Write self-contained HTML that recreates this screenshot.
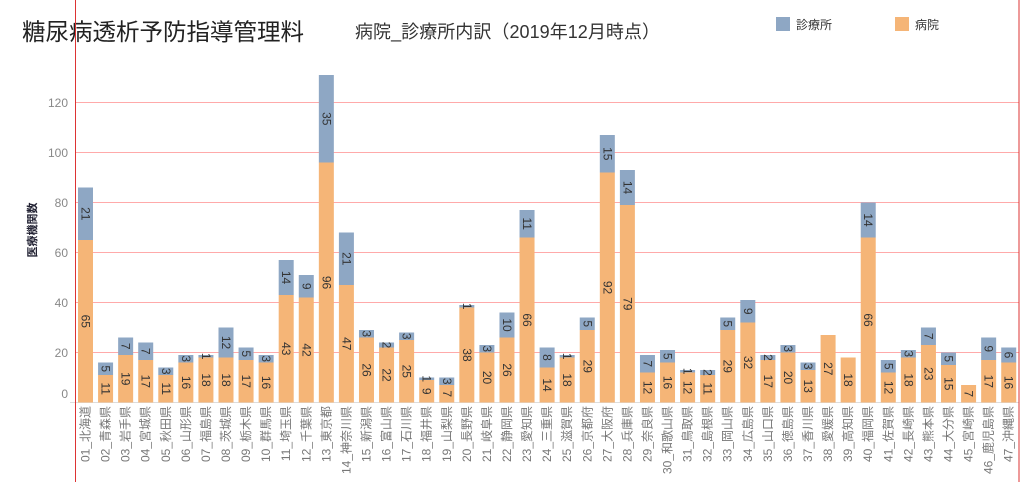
<!DOCTYPE html>
<html><head><meta charset="utf-8"><style>
body{margin:0;background:#fff;width:1024px;height:492px;overflow:hidden}
svg{display:block;font-family:"Liberation Sans","Noto Sans CJK JP",sans-serif}
.o{fill:#f5b577}.b{fill:#8ea7c4}
.v{font-size:12px;fill:#333;text-anchor:middle}
.c{font-size:12px;fill:#777;text-anchor:end}
.y{font-size:12px;fill:#888;text-anchor:end}
.g{stroke:#ffaaaa;stroke-width:1}
</style></head><body>
<svg width="1024" height="492" viewBox="0 0 1024 492">
<text x="22" y="40" font-size="23.5" fill="#222">糖尿病透析予防指導管理料</text>
<text x="355" y="38" font-size="18" fill="#333" textLength="305">病院_診療所内訳（2019年12月時点）</text>
<rect x="776" y="17" width="14" height="14" class="b"/><text x="796" y="29" font-size="12" fill="#333">診療所</text>
<rect x="895" y="17" width="14" height="14" class="o"/><text x="915" y="29" font-size="12" fill="#333">病院</text>
<text transform="translate(36,230) rotate(-90)" font-size="11" fill="#223" text-anchor="middle" font-weight="bold">医療機関数</text>
<g class="g">
<line x1="76" x2="1019" y1="102.5" y2="102.5"/><line x1="76" x2="1019" y1="152.5" y2="152.5"/><line x1="76" x2="1019" y1="202.5" y2="202.5"/><line x1="76" x2="1019" y1="252.5" y2="252.5"/><line x1="76" x2="1019" y1="302.5" y2="302.5"/><line x1="76" x2="1019" y1="352.5" y2="352.5"/>
</g>
<line x1="70" x2="1019" y1="402.5" y2="402.5" stroke="#ddd"/>
<line x1="75.5" x2="75.5" y1="0" y2="482" stroke="#d33" stroke-width="1"/>
<line x1="1019" x2="1019" y1="0" y2="482" stroke="#d33" stroke-width="1"/>
<g class="y"><text x="68" y="107">120</text><text x="68" y="157">100</text><text x="68" y="207">80</text><text x="68" y="257">60</text><text x="68" y="307">40</text><text x="68" y="357">20</text><text x="68" y="398">0</text></g>

<g transform="translate(78,0)"><rect class="o" width="15" y="240" height="162.5"/><rect class="b" width="15" y="187.5" height="52.5"/><text class="v" transform="translate(7.5,321.25) rotate(90)" dy="4">65</text><text class="v" transform="translate(7.5,213.75) rotate(90)" dy="4">21</text><text class="c" transform="translate(7.5,406) rotate(-90)" dy="4">01_北海道</text></g>
<g transform="translate(98.07,0)"><rect class="o" width="15" y="375" height="27.5"/><rect class="b" width="15" y="362.5" height="12.5"/><text class="v" transform="translate(7.5,388.75) rotate(90)" dy="4">11</text><text class="v" transform="translate(7.5,368.75) rotate(90)" dy="4">5</text><text class="c" transform="translate(7.5,406) rotate(-90)" dy="4">02_青森県</text></g>
<g transform="translate(118.14,0)"><rect class="o" width="15" y="355" height="47.5"/><rect class="b" width="15" y="337.5" height="17.5"/><text class="v" transform="translate(7.5,378.75) rotate(90)" dy="4">19</text><text class="v" transform="translate(7.5,346.25) rotate(90)" dy="4">7</text><text class="c" transform="translate(7.5,406) rotate(-90)" dy="4">03_岩手県</text></g>
<g transform="translate(138.21,0)"><rect class="o" width="15" y="360" height="42.5"/><rect class="b" width="15" y="342.5" height="17.5"/><text class="v" transform="translate(7.5,381.25) rotate(90)" dy="4">17</text><text class="v" transform="translate(7.5,351.25) rotate(90)" dy="4">7</text><text class="c" transform="translate(7.5,406) rotate(-90)" dy="4">04_宮城県</text></g>
<g transform="translate(158.28,0)"><rect class="o" width="15" y="375" height="27.5"/><rect class="b" width="15" y="367.5" height="7.5"/><text class="v" transform="translate(7.5,388.75) rotate(90)" dy="4">11</text><text class="v" transform="translate(7.5,371.25) rotate(90)" dy="4">3</text><text class="c" transform="translate(7.5,406) rotate(-90)" dy="4">05_秋田県</text></g>
<g transform="translate(178.35,0)"><rect class="o" width="15" y="362.5" height="40"/><rect class="b" width="15" y="355" height="7.5"/><text class="v" transform="translate(7.5,382.5) rotate(90)" dy="4">16</text><text class="v" transform="translate(7.5,358.75) rotate(90)" dy="4">3</text><text class="c" transform="translate(7.5,406) rotate(-90)" dy="4">06_山形県</text></g>
<g transform="translate(198.42,0)"><rect class="o" width="15" y="357.5" height="45"/><rect class="b" width="15" y="355" height="2.5"/><text class="v" transform="translate(7.5,380) rotate(90)" dy="4">18</text><text class="v" transform="translate(7.5,356.25) rotate(90)" dy="4">1</text><text class="c" transform="translate(7.5,406) rotate(-90)" dy="4">07_福島県</text></g>
<g transform="translate(218.49,0)"><rect class="o" width="15" y="357.5" height="45"/><rect class="b" width="15" y="327.5" height="30"/><text class="v" transform="translate(7.5,380) rotate(90)" dy="4">18</text><text class="v" transform="translate(7.5,342.5) rotate(90)" dy="4">12</text><text class="c" transform="translate(7.5,406) rotate(-90)" dy="4">08_茨城県</text></g>
<g transform="translate(238.56,0)"><rect class="o" width="15" y="360" height="42.5"/><rect class="b" width="15" y="347.5" height="12.5"/><text class="v" transform="translate(7.5,381.25) rotate(90)" dy="4">17</text><text class="v" transform="translate(7.5,353.75) rotate(90)" dy="4">5</text><text class="c" transform="translate(7.5,406) rotate(-90)" dy="4">09_栃木県</text></g>
<g transform="translate(258.63,0)"><rect class="o" width="15" y="362.5" height="40"/><rect class="b" width="15" y="355" height="7.5"/><text class="v" transform="translate(7.5,382.5) rotate(90)" dy="4">16</text><text class="v" transform="translate(7.5,358.75) rotate(90)" dy="4">3</text><text class="c" transform="translate(7.5,406) rotate(-90)" dy="4">10_群馬県</text></g>
<g transform="translate(278.7,0)"><rect class="o" width="15" y="295" height="107.5"/><rect class="b" width="15" y="260" height="35"/><text class="v" transform="translate(7.5,348.75) rotate(90)" dy="4">43</text><text class="v" transform="translate(7.5,277.5) rotate(90)" dy="4">14</text><text class="c" transform="translate(7.5,406) rotate(-90)" dy="4">11_埼玉県</text></g>
<g transform="translate(298.77,0)"><rect class="o" width="15" y="297.5" height="105"/><rect class="b" width="15" y="275" height="22.5"/><text class="v" transform="translate(7.5,350) rotate(90)" dy="4">42</text><text class="v" transform="translate(7.5,286.25) rotate(90)" dy="4">9</text><text class="c" transform="translate(7.5,406) rotate(-90)" dy="4">12_千葉県</text></g>
<g transform="translate(318.84,0)"><rect class="o" width="15" y="162.5" height="240"/><rect class="b" width="15" y="75" height="87.5"/><text class="v" transform="translate(7.5,282.5) rotate(90)" dy="4">96</text><text class="v" transform="translate(7.5,118.75) rotate(90)" dy="4">35</text><text class="c" transform="translate(7.5,406) rotate(-90)" dy="4">13_東京都</text></g>
<g transform="translate(338.91,0)"><rect class="o" width="15" y="285" height="117.5"/><rect class="b" width="15" y="232.5" height="52.5"/><text class="v" transform="translate(7.5,343.75) rotate(90)" dy="4">47</text><text class="v" transform="translate(7.5,258.75) rotate(90)" dy="4">21</text><text class="c" transform="translate(7.5,406) rotate(-90)" dy="4">14_神奈川県</text></g>
<g transform="translate(358.98,0)"><rect class="o" width="15" y="337.5" height="65"/><rect class="b" width="15" y="330" height="7.5"/><text class="v" transform="translate(7.5,370) rotate(90)" dy="4">26</text><text class="v" transform="translate(7.5,333.75) rotate(90)" dy="4">3</text><text class="c" transform="translate(7.5,406) rotate(-90)" dy="4">15_新潟県</text></g>
<g transform="translate(379.05,0)"><rect class="o" width="15" y="347.5" height="55"/><rect class="b" width="15" y="342.5" height="5"/><text class="v" transform="translate(7.5,375) rotate(90)" dy="4">22</text><text class="v" transform="translate(7.5,345) rotate(90)" dy="4">2</text><text class="c" transform="translate(7.5,406) rotate(-90)" dy="4">16_富山県</text></g>
<g transform="translate(399.12,0)"><rect class="o" width="15" y="340" height="62.5"/><rect class="b" width="15" y="332.5" height="7.5"/><text class="v" transform="translate(7.5,371.25) rotate(90)" dy="4">25</text><text class="v" transform="translate(7.5,336.25) rotate(90)" dy="4">3</text><text class="c" transform="translate(7.5,406) rotate(-90)" dy="4">17_石川県</text></g>
<g transform="translate(419.19,0)"><rect class="o" width="15" y="380" height="22.5"/><rect class="b" width="15" y="377.5" height="2.5"/><text class="v" transform="translate(7.5,391.25) rotate(90)" dy="4">9</text><text class="v" transform="translate(7.5,378.75) rotate(90)" dy="4">1</text><text class="c" transform="translate(7.5,406) rotate(-90)" dy="4">18_福井県</text></g>
<g transform="translate(439.26,0)"><rect class="o" width="15" y="385" height="17.5"/><rect class="b" width="15" y="377.5" height="7.5"/><text class="v" transform="translate(7.5,393.75) rotate(90)" dy="4">7</text><text class="v" transform="translate(7.5,381.25) rotate(90)" dy="4">3</text><text class="c" transform="translate(7.5,406) rotate(-90)" dy="4">19_山梨県</text></g>
<g transform="translate(459.33,0)"><rect class="o" width="15" y="307.5" height="95"/><rect class="b" width="15" y="305" height="2.5"/><text class="v" transform="translate(7.5,355) rotate(90)" dy="4">38</text><text class="v" transform="translate(7.5,306.25) rotate(90)" dy="4">1</text><text class="c" transform="translate(7.5,406) rotate(-90)" dy="4">20_長野県</text></g>
<g transform="translate(479.4,0)"><rect class="o" width="15" y="352.5" height="50"/><rect class="b" width="15" y="345" height="7.5"/><text class="v" transform="translate(7.5,377.5) rotate(90)" dy="4">20</text><text class="v" transform="translate(7.5,348.75) rotate(90)" dy="4">3</text><text class="c" transform="translate(7.5,406) rotate(-90)" dy="4">21_岐阜県</text></g>
<g transform="translate(499.47,0)"><rect class="o" width="15" y="337.5" height="65"/><rect class="b" width="15" y="312.5" height="25"/><text class="v" transform="translate(7.5,370) rotate(90)" dy="4">26</text><text class="v" transform="translate(7.5,325) rotate(90)" dy="4">10</text><text class="c" transform="translate(7.5,406) rotate(-90)" dy="4">22_静岡県</text></g>
<g transform="translate(519.54,0)"><rect class="o" width="15" y="237.5" height="165"/><rect class="b" width="15" y="210" height="27.5"/><text class="v" transform="translate(7.5,320) rotate(90)" dy="4">66</text><text class="v" transform="translate(7.5,223.75) rotate(90)" dy="4">11</text><text class="c" transform="translate(7.5,406) rotate(-90)" dy="4">23_愛知県</text></g>
<g transform="translate(539.61,0)"><rect class="o" width="15" y="367.5" height="35"/><rect class="b" width="15" y="347.5" height="20"/><text class="v" transform="translate(7.5,385) rotate(90)" dy="4">14</text><text class="v" transform="translate(7.5,357.5) rotate(90)" dy="4">8</text><text class="c" transform="translate(7.5,406) rotate(-90)" dy="4">24_三重県</text></g>
<g transform="translate(559.68,0)"><rect class="o" width="15" y="357.5" height="45"/><rect class="b" width="15" y="355" height="2.5"/><text class="v" transform="translate(7.5,380) rotate(90)" dy="4">18</text><text class="v" transform="translate(7.5,356.25) rotate(90)" dy="4">1</text><text class="c" transform="translate(7.5,406) rotate(-90)" dy="4">25_滋賀県</text></g>
<g transform="translate(579.75,0)"><rect class="o" width="15" y="330" height="72.5"/><rect class="b" width="15" y="317.5" height="12.5"/><text class="v" transform="translate(7.5,366.25) rotate(90)" dy="4">29</text><text class="v" transform="translate(7.5,323.75) rotate(90)" dy="4">5</text><text class="c" transform="translate(7.5,406) rotate(-90)" dy="4">26_京都府</text></g>
<g transform="translate(599.82,0)"><rect class="o" width="15" y="172.5" height="230"/><rect class="b" width="15" y="135" height="37.5"/><text class="v" transform="translate(7.5,287.5) rotate(90)" dy="4">92</text><text class="v" transform="translate(7.5,153.75) rotate(90)" dy="4">15</text><text class="c" transform="translate(7.5,406) rotate(-90)" dy="4">27_大阪府</text></g>
<g transform="translate(619.89,0)"><rect class="o" width="15" y="205" height="197.5"/><rect class="b" width="15" y="170" height="35"/><text class="v" transform="translate(7.5,303.75) rotate(90)" dy="4">79</text><text class="v" transform="translate(7.5,187.5) rotate(90)" dy="4">14</text><text class="c" transform="translate(7.5,406) rotate(-90)" dy="4">28_兵庫県</text></g>
<g transform="translate(639.96,0)"><rect class="o" width="15" y="372.5" height="30"/><rect class="b" width="15" y="355" height="17.5"/><text class="v" transform="translate(7.5,387.5) rotate(90)" dy="4">12</text><text class="v" transform="translate(7.5,363.75) rotate(90)" dy="4">7</text><text class="c" transform="translate(7.5,406) rotate(-90)" dy="4">29_奈良県</text></g>
<g transform="translate(660.03,0)"><rect class="o" width="15" y="362.5" height="40"/><rect class="b" width="15" y="350" height="12.5"/><text class="v" transform="translate(7.5,382.5) rotate(90)" dy="4">16</text><text class="v" transform="translate(7.5,356.25) rotate(90)" dy="4">5</text><text class="c" transform="translate(7.5,406) rotate(-90)" dy="4">30_和歌山県</text></g>
<g transform="translate(680.1,0)"><rect class="o" width="15" y="372.5" height="30"/><rect class="b" width="15" y="370" height="2.5"/><text class="v" transform="translate(7.5,387.5) rotate(90)" dy="4">12</text><text class="v" transform="translate(7.5,371.25) rotate(90)" dy="4">1</text><text class="c" transform="translate(7.5,406) rotate(-90)" dy="4">31_鳥取県</text></g>
<g transform="translate(700.17,0)"><rect class="o" width="15" y="375" height="27.5"/><rect class="b" width="15" y="370" height="5"/><text class="v" transform="translate(7.5,388.75) rotate(90)" dy="4">11</text><text class="v" transform="translate(7.5,372.5) rotate(90)" dy="4">2</text><text class="c" transform="translate(7.5,406) rotate(-90)" dy="4">32_島根県</text></g>
<g transform="translate(720.24,0)"><rect class="o" width="15" y="330" height="72.5"/><rect class="b" width="15" y="317.5" height="12.5"/><text class="v" transform="translate(7.5,366.25) rotate(90)" dy="4">29</text><text class="v" transform="translate(7.5,323.75) rotate(90)" dy="4">5</text><text class="c" transform="translate(7.5,406) rotate(-90)" dy="4">33_岡山県</text></g>
<g transform="translate(740.31,0)"><rect class="o" width="15" y="322.5" height="80"/><rect class="b" width="15" y="300" height="22.5"/><text class="v" transform="translate(7.5,362.5) rotate(90)" dy="4">32</text><text class="v" transform="translate(7.5,311.25) rotate(90)" dy="4">9</text><text class="c" transform="translate(7.5,406) rotate(-90)" dy="4">34_広島県</text></g>
<g transform="translate(760.38,0)"><rect class="o" width="15" y="360" height="42.5"/><rect class="b" width="15" y="355" height="5"/><text class="v" transform="translate(7.5,381.25) rotate(90)" dy="4">17</text><text class="v" transform="translate(7.5,357.5) rotate(90)" dy="4">2</text><text class="c" transform="translate(7.5,406) rotate(-90)" dy="4">35_山口県</text></g>
<g transform="translate(780.45,0)"><rect class="o" width="15" y="352.5" height="50"/><rect class="b" width="15" y="345" height="7.5"/><text class="v" transform="translate(7.5,377.5) rotate(90)" dy="4">20</text><text class="v" transform="translate(7.5,348.75) rotate(90)" dy="4">3</text><text class="c" transform="translate(7.5,406) rotate(-90)" dy="4">36_徳島県</text></g>
<g transform="translate(800.52,0)"><rect class="o" width="15" y="370" height="32.5"/><rect class="b" width="15" y="362.5" height="7.5"/><text class="v" transform="translate(7.5,386.25) rotate(90)" dy="4">13</text><text class="v" transform="translate(7.5,366.25) rotate(90)" dy="4">3</text><text class="c" transform="translate(7.5,406) rotate(-90)" dy="4">37_香川県</text></g>
<g transform="translate(820.59,0)"><rect class="o" width="15" y="335" height="67.5"/><text class="v" transform="translate(7.5,368.75) rotate(90)" dy="4">27</text><text class="c" transform="translate(7.5,406) rotate(-90)" dy="4">38_愛媛県</text></g>
<g transform="translate(840.66,0)"><rect class="o" width="15" y="357.5" height="45"/><text class="v" transform="translate(7.5,380) rotate(90)" dy="4">18</text><text class="c" transform="translate(7.5,406) rotate(-90)" dy="4">39_高知県</text></g>
<g transform="translate(860.73,0)"><rect class="o" width="15" y="237.5" height="165"/><rect class="b" width="15" y="202.5" height="35"/><text class="v" transform="translate(7.5,320) rotate(90)" dy="4">66</text><text class="v" transform="translate(7.5,220) rotate(90)" dy="4">14</text><text class="c" transform="translate(7.5,406) rotate(-90)" dy="4">40_福岡県</text></g>
<g transform="translate(880.8,0)"><rect class="o" width="15" y="372.5" height="30"/><rect class="b" width="15" y="360" height="12.5"/><text class="v" transform="translate(7.5,387.5) rotate(90)" dy="4">12</text><text class="v" transform="translate(7.5,366.25) rotate(90)" dy="4">5</text><text class="c" transform="translate(7.5,406) rotate(-90)" dy="4">41_佐賀県</text></g>
<g transform="translate(900.87,0)"><rect class="o" width="15" y="357.5" height="45"/><rect class="b" width="15" y="350" height="7.5"/><text class="v" transform="translate(7.5,380) rotate(90)" dy="4">18</text><text class="v" transform="translate(7.5,353.75) rotate(90)" dy="4">3</text><text class="c" transform="translate(7.5,406) rotate(-90)" dy="4">42_長崎県</text></g>
<g transform="translate(920.94,0)"><rect class="o" width="15" y="345" height="57.5"/><rect class="b" width="15" y="327.5" height="17.5"/><text class="v" transform="translate(7.5,373.75) rotate(90)" dy="4">23</text><text class="v" transform="translate(7.5,336.25) rotate(90)" dy="4">7</text><text class="c" transform="translate(7.5,406) rotate(-90)" dy="4">43_熊本県</text></g>
<g transform="translate(941.01,0)"><rect class="o" width="15" y="365" height="37.5"/><rect class="b" width="15" y="352.5" height="12.5"/><text class="v" transform="translate(7.5,383.75) rotate(90)" dy="4">15</text><text class="v" transform="translate(7.5,358.75) rotate(90)" dy="4">5</text><text class="c" transform="translate(7.5,406) rotate(-90)" dy="4">44_大分県</text></g>
<g transform="translate(961.08,0)"><rect class="o" width="15" y="385" height="17.5"/><text class="v" transform="translate(7.5,393.75) rotate(90)" dy="4">7</text><text class="c" transform="translate(7.5,406) rotate(-90)" dy="4">45_宮崎県</text></g>
<g transform="translate(981.15,0)"><rect class="o" width="15" y="360" height="42.5"/><rect class="b" width="15" y="337.5" height="22.5"/><text class="v" transform="translate(7.5,381.25) rotate(90)" dy="4">17</text><text class="v" transform="translate(7.5,348.75) rotate(90)" dy="4">9</text><text class="c" transform="translate(7.5,406) rotate(-90)" dy="4">46_鹿児島県</text></g>
<g transform="translate(1001.22,0)"><rect class="o" width="15" y="362.5" height="40"/><rect class="b" width="15" y="347.5" height="15"/><text class="v" transform="translate(7.5,382.5) rotate(90)" dy="4">16</text><text class="v" transform="translate(7.5,355) rotate(90)" dy="4">6</text><text class="c" transform="translate(7.5,406) rotate(-90)" dy="4">47_沖縄県</text></g>
</svg>
</body></html>
